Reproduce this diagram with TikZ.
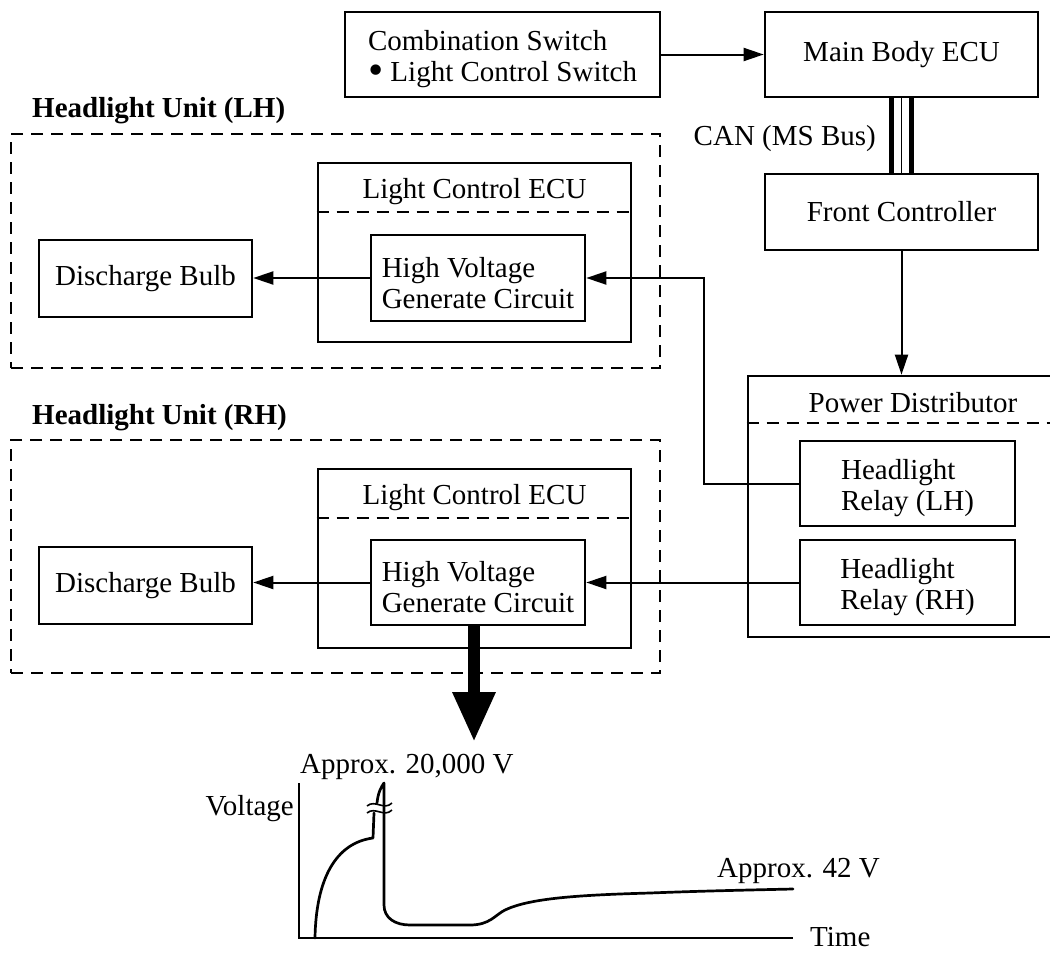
\documentclass[tikz,border=0pt]{standalone}
\usepackage{fontspec}
\setmainfont{Liberation Serif}
\usetikzlibrary{arrows.meta,calc}
\newcommand{\topgap}{\rule{0pt}{30pt}}
\newcommand{\bigdot}{\raisebox{-3pt}{\scalebox{1.5}{\textbullet}}}
\begin{document}
\begin{tikzpicture}[x=1pt,y=-1pt,
  every node/.style={font=\fontsize{29}{31}\selectfont},
  box/.style={draw, line width=2.6pt, inner sep=0pt, align=center},
  unitbox/.style={draw, line width=2.4pt, dash pattern=on 12pt off 8pt, inner sep=0pt},
  divider/.style={line width=2.4pt, dash pattern=on 12pt off 8pt},
  txt/.style={inner sep=0pt},
  wire/.style={line width=2pt, -{Triangle[length=20pt,width=13pt]}},
  plain/.style={line width=2pt},
  curve/.style={line width=2.7pt, line join=round, line cap=round}]
\useasboundingbox (0,0) rectangle (1050,953);

% --- top row: switch, body ECU, CAN bus, front controller
\node[box, minimum width=315pt, minimum height=85pt, align=left] (comb) at (502.5,54.5)
  {\topgap Combination Switch\\\bigdot\ Light Control Switch};
\node[box, minimum width=273pt, minimum height=85pt] (main) at (901.5,54.5) {Main Body ECU};
\node[box, minimum width=273pt, minimum height=76pt] (front) at (901.5,212) {Front Controller};
\draw[wire] (comb.east) -- (main.west);

% CAN (MS Bus) between the ECU and the front controller
\draw[line width=5pt] ($(main.south)+(-10,0)$) -- ($(front.north)+(-10,0)$);
\draw[line width=5pt] ($(main.south)+(10,0)$) -- ($(front.north)+(10,0)$);
\draw[line width=1.6pt] (main.south) -- (front.north);
\node[txt, anchor=base east] (can) at (876,145) {CAN (MS Bus)};

% --- power distributor (runs past the right edge)
\node[box, minimum width=330pt, minimum height=261pt] (pd) at (913,506.5) {};
\node[txt, anchor=base] (pdt) at (913,412) {Power Distributor};
\draw[divider] ($(pd.north west)+(0,48)$) -- ($(pd.north east)+(0,48)$);
\node[box, minimum width=215pt, minimum height=85pt, align=left] (relayL) at (907.5,483.5)
  {\topgap Headlight\\Relay (LH)};
\node[box, minimum width=215pt, minimum height=85pt, align=left] (relayR) at (907.5,582.5)
  {\topgap Headlight\\Relay (RH)};
\draw[wire] (front.south) -- (front.south |- pd.north);

% --- headlight unit (LH)
\node[txt, anchor=base west] (unitLt) at (32,117) {\bfseries Headlight Unit (LH)};
\node[unitbox, minimum width=649pt, minimum height=234pt] (unitL) at (335.5,251) {};
\node[box, minimum width=313pt, minimum height=179pt] (ecuL) at (474.5,252.5) {};
\node[txt, anchor=base] (ecuLt) at (474.5,198) {Light Control ECU};
\draw[divider] ($(ecuL.north west)+(0,50)$) -- ($(ecuL.north east)+(0,50)$);
\node[box, minimum width=214pt, minimum height=86pt, align=left] (hvL) at (478,278)
  {\topgap High Voltage\\Generate Circuit};
\node[box, minimum width=213pt, minimum height=77pt] (bulbL) at (145.5,278.5) {Discharge Bulb};
\draw[wire] (hvL.west) -- (hvL.west -| bulbL.east);

% --- headlight unit (RH)
\node[txt, anchor=base west] (unitRt) at (32,424) {\bfseries Headlight Unit (RH)};
\node[unitbox, minimum width=649pt, minimum height=233pt] (unitR) at (335.5,556.5) {};
\node[box, minimum width=313pt, minimum height=179pt] (ecuR) at (474.5,558.5) {};
\node[txt, anchor=base] (ecuRt) at (474.5,504) {Light Control ECU};
\draw[divider] ($(ecuR.north west)+(0,50)$) -- ($(ecuR.north east)+(0,50)$);
\node[box, minimum width=214pt, minimum height=85pt, align=left] (hvR) at (478,582.5)
  {\topgap High Voltage\\Generate Circuit};
\node[box, minimum width=213pt, minimum height=77pt] (bulbR) at (145.5,585.5) {Discharge Bulb};
\draw[wire] (hvR.west) -- (hvR.west -| bulbR.east);

% --- relay feeds
\coordinate (jL) at (704,0);
\draw[wire] (relayL.west) -- (relayL.west -| jL) -- (jL |- hvL.east) -- (hvL.east);
\draw[wire] (relayR.west) -- (hvR.east);

% --- output of the high-voltage circuit
\coordinate (scope) at (474,742);
\draw[line width=12pt, -{Triangle[length=50pt,width=40pt]}] (hvR.south -| scope) -- (scope);

% --- voltage waveform
\coordinate (O) at (299,938);
\draw[plain] (299,783) -- (O) -- (793,938);
\node[txt, anchor=base east] (vlab) at (294,815) {Voltage};
\node[txt, anchor=base west] (tlab) at (810,946) {Time};
\node[txt, anchor=base west] (hv) at (300,773) {Approx. 20,000 V};
\node[txt, anchor=base west] (lv) at (717,877) {Approx. 42 V};

% rise up to the break
\draw[curve] (315,938) .. controls (316,880) and (335,843) .. (373,838) -- (374,813);
% spike above the break, then the fall and the settling run
\draw[curve] (377,803) .. controls (378,793) and (381,787) .. (384,783)
  -- (384,905) .. controls (384,918) and (395,925) .. (410,925)
  -- (470,925) .. controls (490,925) and (495,915) .. (505,910)
  .. controls (530,898) and (580,895) .. (650,893)
  .. controls (700,891) and (750,890) .. (793,889);
% break marks
\draw[line width=1.6pt] (367,806) .. controls (375,799) and (384,811) .. (392,803);
\draw[line width=1.6pt] (367,813) .. controls (375,806) and (384,818) .. (392,810);
\end{tikzpicture}
\end{document}
